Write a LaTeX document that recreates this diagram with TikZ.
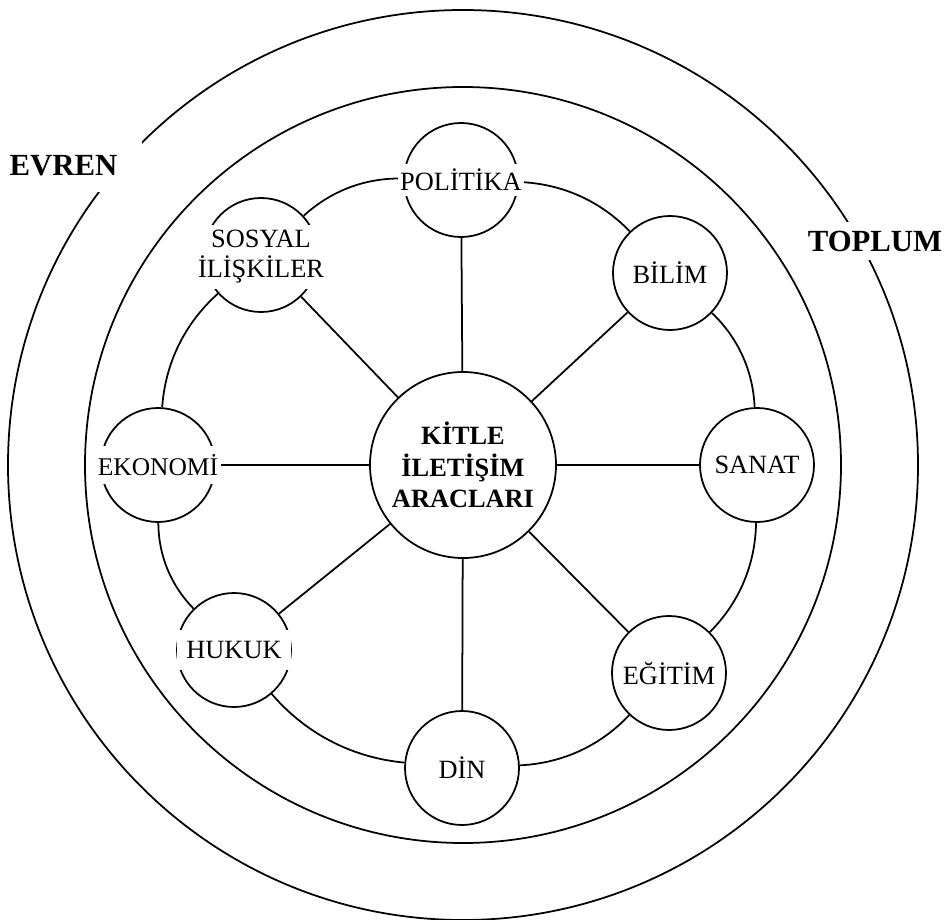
\documentclass[tikz,border=0pt]{standalone}
\usepackage{fontspec}
\setmainfont{Liberation Serif}
\usetikzlibrary{positioning,backgrounds}

\begin{document}
\begin{tikzpicture}[
    hub/.style={draw, circle, fill=white, line width=1pt, minimum size=3.72cm, inner sep=0pt, align=center, font=\fontsize{15}{18}\selectfont\bfseries},
    topic/.style={draw, circle, fill=white, line width=1pt, minimum size=2.28cm},
    tag/.style={fill=white, inner xsep=1.5pt, inner ysep=3pt, align=center, font=\fontsize{15}{17}\selectfont},
    realm/.style={fill=white, inner sep=5pt, font=\fontsize{17.5}{20}\selectfont\bfseries},
    link/.style={line width=1pt},
    rim/.style={line width=1pt}
  ]
    \useasboundingbox (-9.26, 9.30) rectangle (9.76, -9.08);

    % society and universe rings
    \draw[rim] (0, 0) circle[radius=9.1cm];
    \draw[rim] (0, 0) circle[radius=7.56cm];

    \node[hub] (hub) at (0, 0) {KİTLE\\İLETİŞİM\\ARACLARI};

    \node[topic] (pol) at (-0.04, 5.70) {};
    \node[topic] (bil) at (4.14, 3.84) {};
    \node[topic] (san) at (5.88, 0) {};
    \node[topic] (egi) at (4.12, -4.16) {};
    \node[topic] (din) at (-0.02, -6.06) {};
    \node[topic] (huk) at (-4.58, -3.70) {};
    \node[topic] (eko) at (-6.10, 0) {};
    \node[topic] (sos) at (-4.04, 4.20) {};

    % spokes and the ring
    \begin{scope}[on background layer]
      \foreach \t in {pol, bil, san, egi, din, huk, eko, sos}
        \draw[link] (hub) -- (\t);
      \foreach \a/\b in {pol/bil, bil/san, san/egi, egi/din, din/huk, huk/eko, eko/sos, sos/pol}
        \draw[link] (\a) to[bend left=22, looseness=0.9] (\b);
    \end{scope}

    \node[tag] (pol-t) at (pol) {POLİTİKA};
    \node[tag] (bil-t) at (bil) {BİLİM};
    \node[tag] (san-t) at (san) {SANAT};
    \node[tag] (egi-t) at (egi) {EĞİTİM};
    \node[tag] (din-t) at (din) {DİN};
    \node[tag, minimum width=2.28cm, minimum height=0.8cm] (huk-t) at (huk) {HUKUK};
    \node[tag, minimum height=0.76cm, font=\fontsize{14.5}{17}\selectfont] (eko-t) at (eko) {EKONOMİ};
    \node[tag] (sos-t) at ([yshift=-0.04cm]sos) {SOSYAL\\İLİŞKİLER};

    \node[realm, inner xsep=14pt, inner ysep=9pt] (evren) at (-7.99, 5.98) {EVREN};
    \node[realm] (toplum) at (8.24, 4.48) {TOPLUM};
\end{tikzpicture}
\end{document}
